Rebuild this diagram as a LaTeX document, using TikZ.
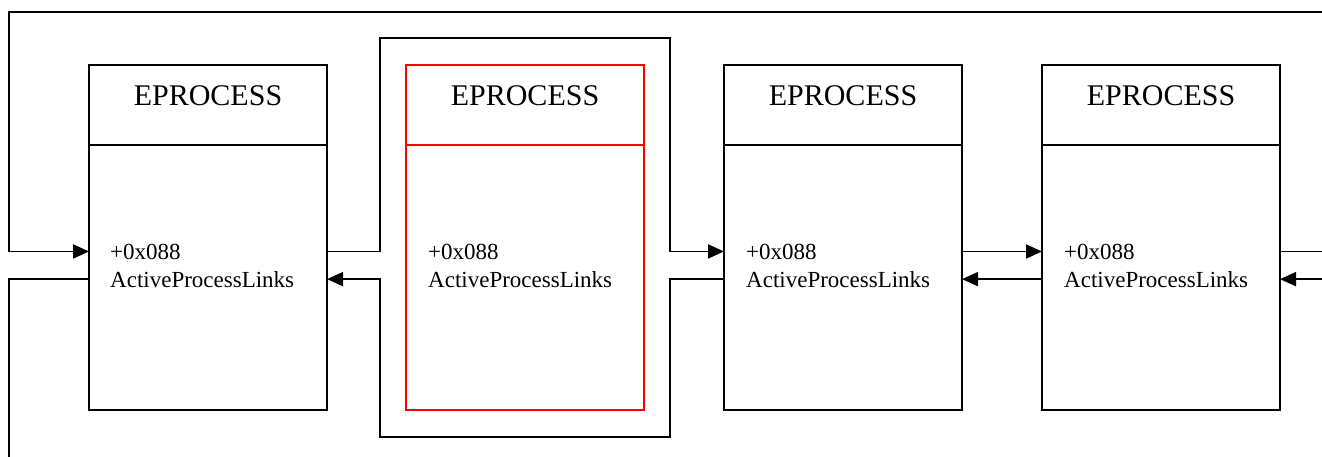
\documentclass[tikz,border=0pt]{standalone}
\usepackage{fontspec}
\setmainfont{Liberation Serif}
\usetikzlibrary{positioning}
\usetikzlibrary{arrows.meta}

\begin{document}
\begin{tikzpicture}[x=1pt, y=-1pt]

\tikzstyle{head}=[draw, line width=1.8pt, outer sep=0pt,
	minimum width=238pt, minimum height=80pt, text depth=18pt,
	font=\fontsize{30}{36}\selectfont]
\tikzstyle{body}=[draw, line width=1.8pt, outer sep=0pt,
	minimum width=238pt, minimum height=265pt]
\tikzstyle{current}=[draw=red, line width=1.3pt]
\tikzstyle{field}=[anchor=base west, inner sep=0pt,
	font=\fontsize{23}{28}\selectfont]
\tikzstyle{link}=[line width=1.9pt]
\tikzstyle{linkto}=[link, -{Triangle[length=16pt, width=14pt]}]

\useasboundingbox (0,0) rectangle (1322,457);

% first entry
\node[head] (h1) at (208,105) {EPROCESS};
\node[body, below=0pt of h1] (b1) {};
\node[field] (o1) at (110,259) {+0x088};
\node[field] (a1) at (110,287) {ActiveProcessLinks};

% highlighted entry
\node[head, current] (h2) at (525,105) {EPROCESS};
\node[body, current, below=0pt of h2] (b2) {};
\node[field] (o2) at (428,259) {+0x088};
\node[field] (a2) at (428,287) {ActiveProcessLinks};

% third entry
\node[head] (h3) at (843,105) {EPROCESS};
\node[body, below=0pt of h3] (b3) {};
\node[field] (o3) at (746,259) {+0x088};
\node[field] (a3) at (746,287) {ActiveProcessLinks};

% fourth entry
\node[head] (h4) at (1161,105) {EPROCESS};
\node[body, below=0pt of h4] (b4) {};
\node[field] (o4) at (1064,259) {+0x088};
\node[field] (a4) at (1064,287) {ActiveProcessLinks};

\coordinate (leftTop) at (9,12);
\coordinate (leftEnd) at (9,457);
\coordinate (rightEdge) at (1322,12);
\coordinate (bypassNW) at (380,38);
\coordinate (bypassSE) at (670,437);

% wrap-around links
\draw[linkto] (rightEdge) -- (leftTop) |- (b1.west |- o1);
\draw[link] (b1.west |- a1) -| (leftEnd);

% links around the highlighted entry
\draw[linkto] (b1.east |- o1) -| (bypassNW) -| (bypassSE |- o3)
	-- (b3.west |- o3);
\draw[linkto] (b3.west |- a3) -| (bypassSE) -| (bypassNW |- a1)
	-- (b1.east |- a1);

% third and fourth
\draw[linkto] (b3.east |- o3) -- (b4.west |- o4);
\draw[linkto] (b4.west |- a4) -- (b3.east |- a3);

% off to the right
\draw[link] (b4.east |- o4) -- (o4 -| rightEdge);
\draw[linkto] (a4 -| rightEdge) -- (b4.east |- a4);

\end{tikzpicture}
\end{document}
